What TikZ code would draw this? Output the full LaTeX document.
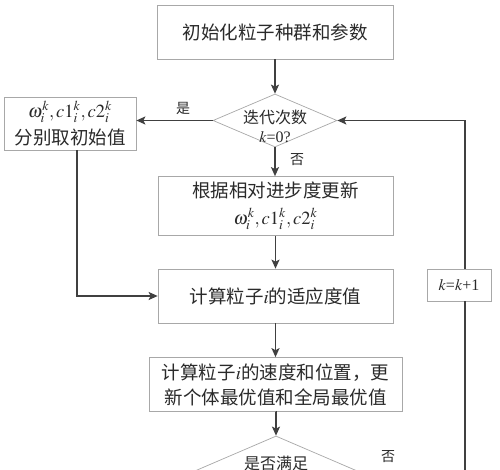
\documentclass[tikz,border=0pt]{standalone}
\usepackage{mathptmx}
\usepackage{fontspec}
\setmainfont{Liberation Serif}
\newfontfamily\cjk{Noto Sans CJK SC}
\usetikzlibrary{shapes.geometric,arrows.meta}
\definecolor{boxgray}{HTML}{A8A8A8}
\definecolor{arrgray}{HTML}{404040}
\definecolor{txt}{HTML}{2A2A2A}
\begin{document}
\begin{tikzpicture}[x=1pt,y=-1pt,
  box/.style={draw=boxgray, line width=0.7pt, fill=white, inner sep=0pt, align=center, text=txt,
    font=\cjk\fontsize{18.5}{27}\selectfont},
  dia/.style={shape=diamond, draw=boxgray, line width=0.7pt, fill=white, inner sep=0pt},
  dtext/.style={inner sep=0pt, align=center, text=txt, font=\cjk\fontsize{16}{19}\selectfont},
  arr/.style={draw=arrgray, line width=1.3pt, -{Stealth[length=9pt,width=8pt,inset=2pt]}},
  plain/.style={draw=arrgray, line width=1.3pt},
  lbl/.style={inner sep=0pt, text=txt, font=\cjk\fontsize{14}{16}\selectfont}]
\useasboundingbox (0,0) rectangle (500,470);
\clip (0,0) rectangle (500,470);
\fill[white] (0,0) rectangle (500,470);

\coordinate (rx) at (465,0);

\node[box, minimum width=236pt, minimum height=54pt] (init) at (275,32) {初始化粒子种群和参数};
\node[dia, minimum width=124pt, minimum height=53pt] (d1) at (275,120.5) {};
\node[dtext] (d1t) at (275,126) {迭代次数\\{\rmfamily$k$=0?}};
\node[box, minimum width=132pt, minimum height=53pt] (init0) at (70,123.5) {$\omega_i^k,c1_i^k,c2_i^k$\\分别取初始值};
\node[box, minimum width=235pt, minimum height=59pt] (upd) at (275.5,206) {根据相对进步度更新\\$\omega_i^k,c1_i^k,c2_i^k$};
\node[box, minimum width=235pt, minimum height=54pt] (fit) at (275.5,296) {计算粒子$i$的适应度值};
\node[box, minimum width=253pt, minimum height=54pt, font=\cjk\fontsize{18.5}{25}\selectfont] (vel) at (275.5,384.5) {计算粒子$i$的速度和位置，更\\新个体最优值和全局最优值};
\node[dia, minimum width=172pt, minimum height=74pt] (d2) at (276,473) {};
\node[dtext] (d2t) at (276,463) {是否满足};

% right loop line (drawn before the k box so the box sits on it)
\node[box, minimum width=64pt, minimum height=32pt, font=\rmfamily\fontsize{16}{19}\selectfont] (kb) at (459,285) {$k$=$k$+1};
\draw[plain] (d2.east) -- (d2.east -| rx) -- (rx |- kb.south);
\draw[arr] (rx |- kb.north) |- (d1.east);

\draw[arr] (init) -- (d1);
\draw[arr] (d1.west) -- (d1.west -| init0.east);
\draw[arr] (d1.south) -- (d1.south |- upd.north);
\draw[arr] (upd) -- (fit);
\draw[arr] (fit) -- (vel);
\draw[arr] (vel.south) -- (vel.south -| d2.north) -- (d2.north);
\draw[arr] ([xshift=7pt]init0.south) |- (fit.west);

\node[lbl] (yes) at (183,108) {是};
\node[lbl] (no1) at (297,160) {否};
\node[lbl] (no2) at (388,457) {否};
\end{tikzpicture}
\end{document}
